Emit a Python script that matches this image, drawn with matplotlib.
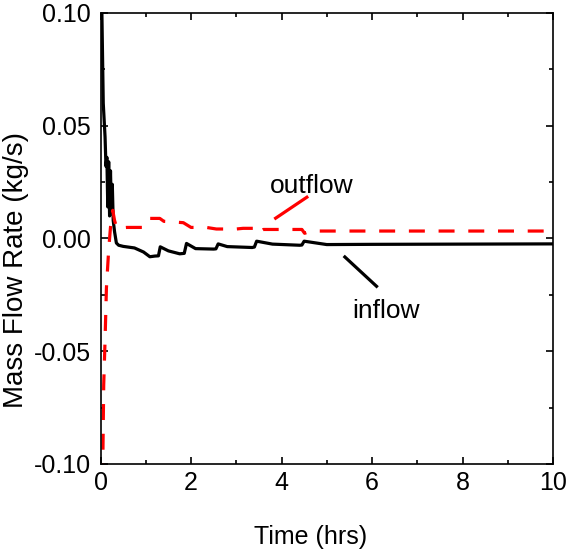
import matplotlib
matplotlib.use("Agg")
import matplotlib.pyplot as plt
from matplotlib.ticker import MultipleLocator, FormatStrFormatter

plt.rcParams['font.family'] = ['Liberation Sans', 'DejaVu Sans']

# inflow (black, solid)
inflow_t = [0.0, 0.03, 0.06, 0.10, 0.12, 0.14, 0.16, 0.18, 0.20, 0.22, 0.24,
            0.26, 0.28, 0.31, 0.35, 0.40, 0.50, 0.75, 0.95, 1.09, 1.20, 1.28,
            1.32, 1.50, 1.75, 1.85, 1.90, 2.10, 2.50, 2.55, 2.60, 2.80, 3.35,
            3.40, 3.45, 3.80, 4.40, 4.45, 4.50, 5.00, 6.0, 8.0, 10.0]
inflow_v = [0.13, 0.100, 0.060, 0.045, 0.032, 0.036, 0.014, 0.034, 0.010, 0.030, 0.012,
            0.024, 0.008, 0.003, -0.002, -0.003, -0.0035, -0.0042, -0.006, -0.0081, -0.0078, -0.0077,
            -0.0037, -0.0055, -0.0068, -0.0066, -0.0022, -0.0045, -0.0047, -0.0046, -0.0024, -0.0036, -0.0040,
            -0.0038, -0.0012, -0.0025, -0.0030, -0.0029, -0.0012, -0.0027, -0.0026, -0.0025, -0.0024]

# outflow (red, dashed)
outflow_t = [0.0, 0.05, 0.07, 0.10, 0.13, 0.18, 0.22, 0.27, 0.31, 0.36, 0.58, 0.94,
             1.02, 1.09, 1.31, 1.40, 1.57, 1.83, 2.00, 2.34, 2.56, 3.00, 3.15, 3.37,
             3.45, 3.60, 4.25, 4.45, 4.51, 4.65, 10.0]
outflow_v = [-0.12, -0.100, -0.065, -0.045, -0.022, -0.005, 0.005, 0.0125, 0.008, 0.0045, 0.0049, 0.0049,
             0.0085, 0.0089, 0.0089, 0.0076, 0.0074, 0.0070, 0.0049, 0.0049, 0.0042, 0.0042, 0.0045, 0.0045,
             0.0022, 0.0040, 0.0040, 0.0040, 0.0023, 0.0033, 0.0033]

fig = plt.figure(figsize=(5.68, 5.5), dpi=100)
ax = fig.add_axes([0.177, 0.1564, 0.7966, 0.82])

ax.plot(inflow_t, inflow_v, color='black', lw=2.3, solid_joinstyle='round')
ax.plot(outflow_t, outflow_v, color='red', lw=2.3, dashes=(5, 4.3))

# pointer lines and labels
ax.plot([4.56, 3.87], [0.0183, 0.0090], color='red', lw=2.3)
ax.plot([5.40, 6.10], [-0.0082, -0.0212], color='black', lw=2.3)
ax.text(4.67, 0.0232, 'outflow', fontsize=19, ha='center', va='center')
ax.text(6.32, -0.0322, 'inflow', fontsize=19, ha='center', va='center')

ax.set_xlim(0, 10)
ax.set_ylim(-0.1, 0.1)
ax.xaxis.set_major_locator(MultipleLocator(2))
ax.xaxis.set_minor_locator(MultipleLocator(1))
ax.yaxis.set_major_locator(MultipleLocator(0.05))
ax.yaxis.set_minor_locator(MultipleLocator(0.025))
ax.yaxis.set_major_formatter(FormatStrFormatter('%.2f'))

ax.tick_params(which='both', direction='in', top=True, right=True, width=1.2)
ax.tick_params(which='major', length=5, labelsize=18, pad=7)
ax.tick_params(which='minor', length=3)
ax.tick_params(axis='x', which='major', pad=5)
for s in ax.spines.values():
    s.set_linewidth(1.2)

ax.set_xlabel('Time (hrs)', fontsize=18)
ax.set_ylabel('Mass Flow Rate (kg/s)', fontsize=20)
ax.xaxis.set_label_coords(0.465, -0.136)
ax.yaxis.set_label_coords(-0.157, 0.43)

fig.savefig('out.png', dpi=100)
